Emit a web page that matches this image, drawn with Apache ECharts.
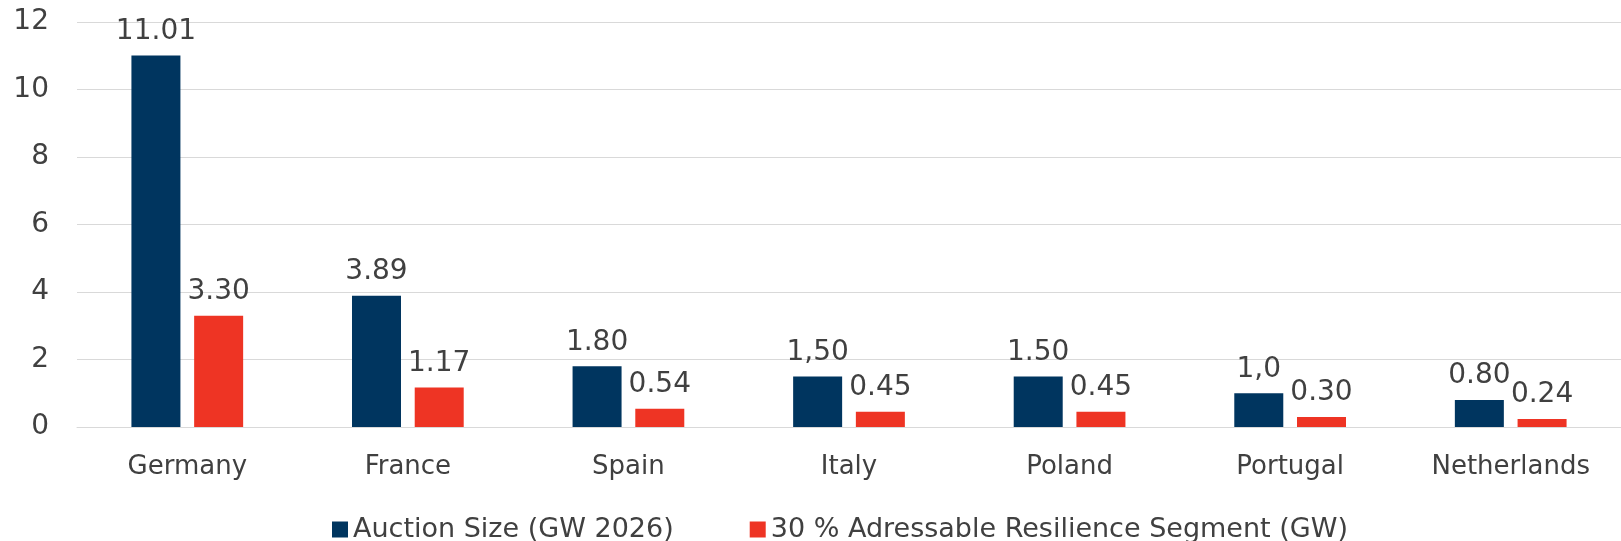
<!DOCTYPE html>
<html>
<head>
<meta charset="utf-8">
<script src="https://cdn.jsdelivr.net/npm/echarts@6/dist/echarts.min.js"></script>
<style>
  html, body { margin: 0; padding: 0; background: #fff; }
  #chart { width: 1621px; height: 541px; }
</style>
</head>
<body>
<div id="chart"></div>
<script>
// data
var countries = ['Germany', 'France', 'Spain', 'Italy', 'Poland', 'Portugal', 'Netherlands'];
var auctionSize = [11.01, 3.89, 1.80, 1.50, 1.50, 1.0, 0.80];
var auctionLabels = ['11.01', '3.89', '1.80', '1,50', '1.50', '1,0', '0.80'];
var resilience = [3.30, 1.17, 0.54, 0.45, 0.45, 0.30, 0.24];
var resilienceLabels = ['3.30', '1.17', '0.54', '0.45', '0.45', '0.30', '0.24'];

var textColor = '#404040';
var fontFamily = 'DejaVu Sans';

var myChart = echarts.init(document.getElementById('chart'));

var option = {
    animation: false,
    textStyle: { fontFamily: fontFamily },
    grid: { left: 77, right: 0, top: 22, bottom: 114 },
    legend: {
        top: 511,
        left: 327,
        itemWidth: 16,
        itemHeight: 16,
        itemGap: 76,
        icon: 'rect',
        textStyle: { color: textColor, fontSize: 27, fontFamily: fontFamily }
    },
    xAxis: {
        type: 'category',
        data: countries,
        axisTick: { show: false },
        axisLine: { lineStyle: { color: '#d9d9d9', width: 1 } },
        axisLabel: { color: textColor, fontSize: 26, margin: 27 }
    },
    yAxis: {
        type: 'value',
        min: 0,
        max: 12,
        interval: 2,
        axisLabel: { color: textColor, fontSize: 28, margin: 28 },
        splitLine: { lineStyle: { color: '#d9d9d9', width: 1 } }
    },
    series: [
        {
            name: 'Auction Size (GW 2026)',
            type: 'bar',
            data: auctionSize,
            barWidth: 49,
            barGap: '28%',
            itemStyle: { color: '#00355f' },
            label: {
                show: true,
                position: 'top',
                distance: 10,
                color: textColor,
                fontSize: 28,
                formatter: function (p) { return auctionLabels[p.dataIndex]; }
            }
        },
        {
            name: '30 % Adressable Resilience Segment (GW)',
            type: 'bar',
            data: resilience,
            barWidth: 49,
            itemStyle: { color: '#ee3424' },
            label: {
                show: true,
                position: 'top',
                distance: 10,
                color: textColor,
                fontSize: 28,
                formatter: function (p) { return resilienceLabels[p.dataIndex]; }
            }
        }
    ]
};

myChart.setOption(option);
</script>
</body>
</html>
